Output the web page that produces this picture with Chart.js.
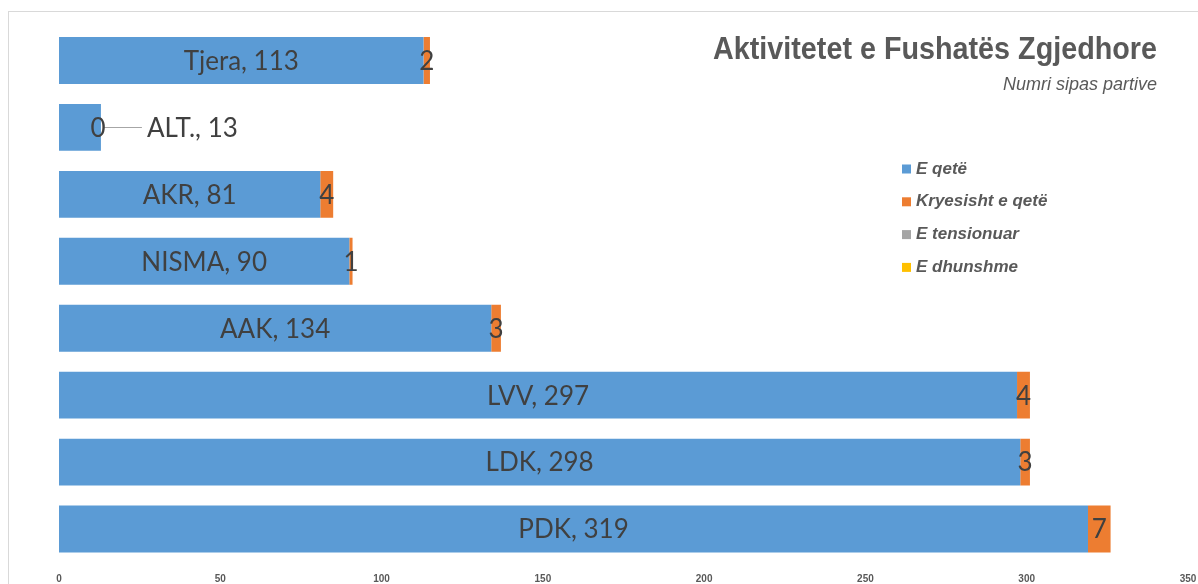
<!DOCTYPE html>
<html>
<head>
<meta charset="utf-8">
<script src="https://cdn.jsdelivr.net/npm/chart.js@4.4.1/dist/chart.umd.min.js"></script>
<style>
  html, body { margin: 0; padding: 0; background: #fff; }
  #wrap { position: relative; width: 1198px; height: 584px; }
</style>
</head>
<body>
<div id="wrap"><canvas id="c"></canvas></div>
<script>
// ---------- Data ----------
const parties = ['Tjera', 'ALT.', 'AKR', 'NISMA', 'AAK', 'LVV', 'LDK', 'PDK'];
const eQete = [113, 13, 81, 90, 134, 297, 298, 319];
const kryesishtQete = [2, 0, 4, 1, 3, 4, 3, 7];
const eTensionuar = [0, 0, 0, 0, 0, 0, 0, 0];
const eDhunshme = [0, 0, 0, 0, 0, 0, 0, 0];
const seriesNames = ['E qetë', 'Kryesisht e qetë', 'E tensionuar', 'E dhunshme'];
const xMax = 350;
const xStep = 50;

const titleText = 'Aktivitetet e Fushatës Zgjedhore';
const subtitleText = 'Numri sipas partive';

const colors = ['#5B9BD5', '#ED7D31', '#A5A5A5', '#FFC000'];
const labelFont = '26px Lato, "Open Sans", sans-serif';
const labelColor = '#404040';

// ---------- Plugin: labels, legend, title, frame ----------
const decor = {
  id: 'decor',
  beforeDraw(chart) {
    const ctx = chart.ctx;
    ctx.save();
    ctx.strokeStyle = '#d9d9d9';
    ctx.lineWidth = 1;
    ctx.strokeRect(8.5, 11.5, 1400, 800);
    ctx.restore();
  },
  afterDatasetsDraw(chart) {
    const ctx = chart.ctx;
    ctx.save();
    ctx.font = labelFont;
    ctx.fillStyle = labelColor;
    ctx.textBaseline = 'middle';
    ctx.textAlign = 'center';

    const blue = chart.getDatasetMeta(0).data;
    const orange = chart.getDatasetMeta(1).data;

    blue.forEach((bar, i) => {
      const txt = parties[i] + ', ' + eQete[i];
      const w = ctx.measureText(txt).width;
      const segW = bar.x - bar.base;
      if (w + 10 < segW) {
        ctx.fillText(txt, (bar.x + bar.base) / 2, bar.y + 1);
      } else {
        // too narrow: put it outside with a leader line
        const tx = bar.x + 46;
        ctx.textAlign = 'left';
        ctx.fillText(txt, tx, bar.y + 1);
        ctx.textAlign = 'center';
        ctx.strokeStyle = '#a6a6a6';
        ctx.lineWidth = 1;
        ctx.beginPath();
        ctx.moveTo(bar.x + 3, Math.round(bar.y) + 0.5);
        ctx.lineTo(tx - 5, Math.round(bar.y) + 0.5);
        ctx.stroke();
      }
    });

    orange.forEach((bar, i) => {
      const cx = (bar.x + bar.base) / 2;
      ctx.fillText(String(kryesishtQete[i]), kryesishtQete[i] === 0 ? cx - 3 : cx, bar.y + 1);
    });
    ctx.restore();
  },
  afterDraw(chart) {
    const ctx = chart.ctx;
    ctx.save();

    // title
    ctx.fillStyle = '#595959';
    ctx.textAlign = 'right';
    ctx.textBaseline = 'alphabetic';
    ctx.font = 'bold 29px "Liberation Sans", Arial, sans-serif';
    const tw = ctx.measureText(titleText).width;
    ctx.save();
    ctx.translate(1157, 59);
    ctx.scale(444 / tw, 1.1);
    ctx.fillText(titleText, 0, 0);
    ctx.restore();

    // subtitle
    ctx.font = 'italic 18px "Liberation Sans", Arial, sans-serif';
    ctx.fillText(subtitleText, 1157, 90);

    // legend
    ctx.textAlign = 'left';
    ctx.font = 'bold italic 17px "Liberation Sans Narrow", "Liberation Sans", sans-serif';
    seriesNames.forEach((name, i) => {
      const yc = 169 + i * 32.8;
      ctx.fillStyle = colors[i];
      ctx.fillRect(902, yc - 4.5, 9, 9);
      ctx.fillStyle = '#595959';
      ctx.textBaseline = 'middle';
      ctx.fillText(name, 916, yc);
    });
    ctx.restore();
  }
};

// ---------- Chart ----------
const datasets = [eQete, kryesishtQete, eTensionuar, eDhunshme].map((vals, i) => ({
  label: seriesNames[i],
  data: vals,
  backgroundColor: colors[i],
  borderWidth: 0,
  categoryPercentage: 1,
  barPercentage: 0.7
}));

new Chart(document.getElementById('c'), {
  type: 'bar',
  data: { labels: parties, datasets },
  options: {
    indexAxis: 'y',
    responsive: true,
    maintainAspectRatio: false,
    animation: false,
    layout: { padding: { left: 59, top: 27, right: 10, bottom: 0 } },
    scales: {
      x: {
        stacked: true,
        min: 0,
        max: xMax,
        grid: { display: false, drawTicks: false },
        border: { display: false },
        ticks: {
          stepSize: xStep,
          padding: 11,
          color: '#595959',
          font: { family: '"Liberation Sans Narrow", "Liberation Sans", sans-serif', size: 10, weight: 'bold' }
        },
        afterFit: (s) => { s.height = 21.5; s.paddingLeft = 0; s.paddingRight = 0; }
      },
      y: {
        stacked: true,
        display: false
      }
    },
    plugins: {
      legend: { display: false },
      tooltip: { enabled: false }
    }
  },
  plugins: [decor]
});
</script>
</body>
</html>
